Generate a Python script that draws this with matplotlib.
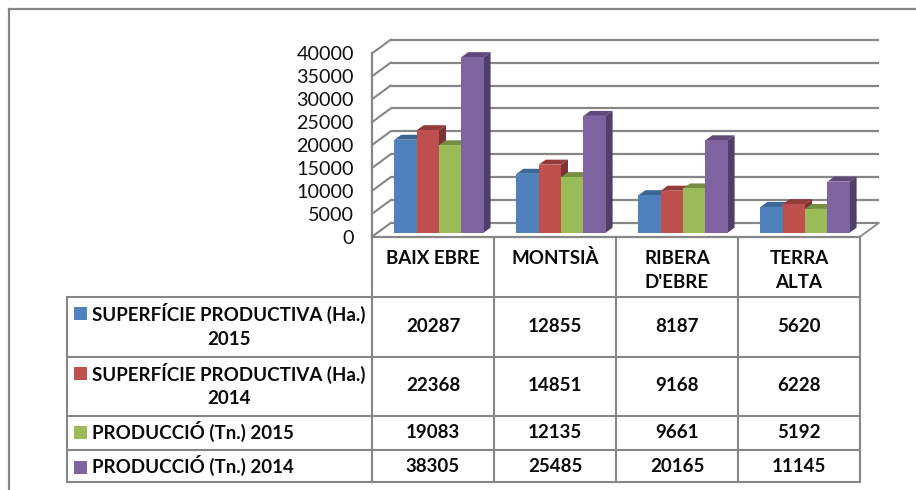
import matplotlib
matplotlib.use("Agg")
import matplotlib.pyplot as plt
from matplotlib.patches import Polygon, Rectangle

categories = ["BAIX EBRE", "MONTSIÀ", "RIBERA\nD'EBRE", "TERRA\nALTA"]
series_names = ["SUPERFÍCIE PRODUCTIVA (Ha.)\n2015", "SUPERFÍCIE PRODUCTIVA (Ha.)\n2014",
                "PRODUCCIÓ (Tn.) 2015", "PRODUCCIÓ (Tn.) 2014"]
sup_2015 = [20287, 12855, 8187, 5620]
sup_2014 = [22368, 14851, 9168, 6228]
prod_2015 = [19083, 12135, 9661, 5192]
prod_2014 = [38305, 25485, 20165, 11145]
all_series = [sup_2015, sup_2014, prod_2015, prod_2014]
y_ticks = list(range(0, 40001, 5000))

front = ["#4F81BD", "#C0504D", "#9BBB59", "#8064A2"]
top = ["#3C6696", "#943C3A", "#768F44", "#604A7C"]
side = ["#345780", "#7E3331", "#647A3A", "#523F69"]
LINE = "#868686"

W, H = 916, 490
FONT = "Lato"
plt.rcParams["font.family"] = [FONT, "DejaVu Sans"]
fig = plt.figure(figsize=(W / 100, H / 100), dpi=100)

# overlay in pixel coordinates for frame and table
tb = fig.add_axes([0, 0, 1, 1], zorder=3)
tb.set_xlim(0, W); tb.set_ylim(H, 0); tb.axis("off")

# plot axes: front wall of the 3D box
L, R, B, T = 372, 860, 236.7, 53.4
ax = fig.add_axes([L / W, 1 - B / H, (R - L) / W, (B - T) / H], zorder=2)
ax.set_xlim(-0.5, 3.5)
ax.set_ylim(0, 40000)
ax.patch.set_alpha(0)
for s in ax.spines.values():
    s.set_visible(False)
ax.spines["left"].set_visible(True)
ax.spines["left"].set_color(LINE)
ax.spines["left"].set_linewidth(1.6)
ax.set_xticks([])
ax.set_yticks(y_ticks)
ax.tick_params(axis="y", length=0, pad=13, labelsize=14.2, labelcolor="#111111")

px_x = (R - L) / 4.0
px_y = (B - T) / 40000.0
WALL_DX, WALL_DY = 18.7 / px_x, 13.7 / px_y
BAR_DX, BAR_DY = 7.0 / px_x, 5.0 / px_y
BASE = 4.0 / px_y
SHIFT = 6.0 / px_x
BW = 22.3 / px_x

# back wall grid and side-wall diagonals
for v in y_ticks:
    ax.plot([-0.5 + WALL_DX, 3.5 + WALL_DX], [v + WALL_DY, v + WALL_DY], color=LINE, lw=1.6,
            clip_on=False, zorder=1, solid_capstyle="butt")
    ax.plot([-0.5, -0.5 + WALL_DX], [v, v + WALL_DY], color=LINE, lw=1.5, clip_on=False, zorder=1)
ax.plot([3.5, 3.5 + WALL_DX], [0, WALL_DY], color=LINE, lw=1.3, clip_on=False, zorder=1)

# bars
z = 2
for c in range(len(categories)):
    for i, vals in enumerate(all_series):
        x0 = c + SHIFT + (i - 2) * BW
        x1 = x0 + BW
        h = BASE + vals[c]
        ax.add_patch(Polygon([(x1, BASE), (x1 + BAR_DX, BASE + BAR_DY), (x1 + BAR_DX, h + BAR_DY), (x1, h)],
                             closed=True, fc=side[i], ec="none", clip_on=False, zorder=z))
        ax.add_patch(Polygon([(x0, h), (x0 + BAR_DX, h + BAR_DY), (x1 + BAR_DX, h + BAR_DY), (x1, h)],
                             closed=True, fc=top[i], ec="none", clip_on=False, zorder=z))
        ax.bar(x0, vals[c], width=BW, bottom=BASE, align="edge", color=front[i], clip_on=False, zorder=z + 0.5)
        z += 1

# outer frame
tb.plot([9, 9], [9, H], color=LINE, lw=1.6)
tb.plot([9, W], [9, 9], color=LINE, lw=1.6)

# table grid
cols = [372, 494, 616, 738, 860]
rows = [296.7, 356.7, 415.7, 450, 482.3]
TL = 67
tb.plot([L, R], [B, B], color=LINE, lw=1.6)
for y in rows:
    tb.plot([TL, R], [y, y], color=LINE, lw=1.5)
tb.plot([TL, TL], [rows[0], rows[-1]], color=LINE, lw=1.5)
for x in cols:
    tb.plot([x, x], [B, rows[-1]], color=LINE, lw=1.5)

TXT = "#0a0a0a"
FS = 13.5
LS = 1.45
cat_y = [258, 258, 270.5, 270.5]
for c, name in enumerate(categories):
    tb.text((cols[c] + cols[c + 1]) / 2, cat_y[c], name, ha="center", va="center", fontsize=FS,
            fontweight="bold", color=TXT, linespacing=LS)

val_y = [326, 385.5, 432, 466]
label_y = [325.5, 385, 431.5, 465.5]
key_y = [313, 373, 432.5, 467]
for i, name in enumerate(series_names):
    tb.add_patch(Rectangle((74, key_y[i] - 6.5), 13, 13, fc=front[i], ec="none"))
    if "\n" in name:
        tb.text(229, label_y[i], name, ha="center", va="center", fontsize=FS, fontweight="bold",
                color=TXT, linespacing=LS)
    else:
        tb.text(92, label_y[i], name, ha="left", va="center", fontsize=FS, fontweight="bold", color=TXT)
    for c, v in enumerate(all_series[i]):
        tb.text((cols[c] + cols[c + 1]) / 2, val_y[i], str(v), ha="center", va="center", fontsize=FS,
                fontweight="bold", color=TXT)

fig.savefig("out.png", dpi=100, facecolor="white")
